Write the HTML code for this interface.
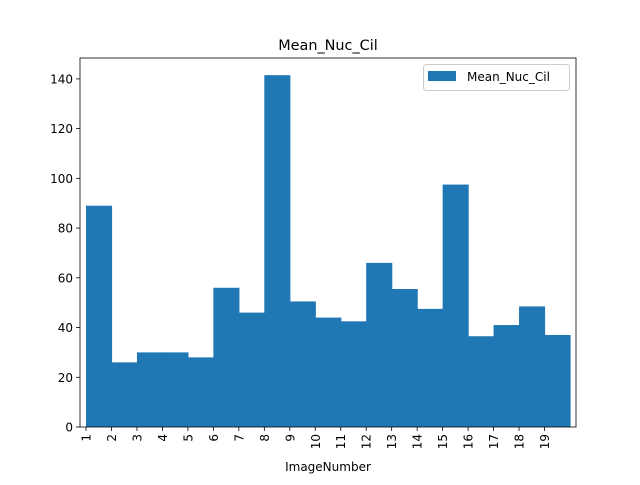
<!DOCTYPE html>
<html><head><meta charset="utf-8"><style>
body{margin:0;background:#fff;font-family:"Liberation Sans","DejaVu Sans",sans-serif;}
</style></head><body>
<svg id="chart" width="640" height="480" xmlns="http://www.w3.org/2000/svg" font-family="DejaVu Sans, Liberation Sans, sans-serif">
<rect width="640" height="480" fill="#fff"/>
<g id="bars"></g>
<g id="axes"></g>
</svg>
<script>
const categories=[1,2,3,4,5,6,7,8,9,10,11,12,13,14,15,16,17,18,19];
const values=[89,26,30,30,28,56,46,141.5,50.5,44,42.5,66,55.5,47.5,97.5,36.5,41,48.5,37];
const yTicks=[0,20,40,60,80,100,120,140];
const L=80,R=576,T=58,B=427;
const xmin=0.764,xmax=20.236,ymin=0,ymax=148.4;
const xs=v=>L+(v-xmin)/(xmax-xmin)*(R-L);
const ys=v=>B-(v-ymin)/(ymax-ymin)*(B-T);
const NS="http://www.w3.org/2000/svg";
const bars=document.getElementById('bars');
const axes=document.getElementById('axes');
function mk(tag,attrs,parent){const e=document.createElementNS(NS,tag);for(const k in attrs)e.setAttribute(k,attrs[k]);parent.appendChild(e);return e;}
categories.forEach((c,i)=>{
  const x0=xs(c),x1=xs(c+1),y=ys(values[i]);
  const r=mk('rect',{x:x0,y:y,width:x1-x0+0.6,height:B-y,fill:'#1f77b4'},bars);
  
  
  const t=mk('line',{x1:x0,x2:x0,y1:B,y2:B+4,stroke:'#000','stroke-width':0.8},axes);
  
  
  const lb=mk('text',{x:0,y:0,'font-size':12,'text-anchor':'end',transform:`translate(${x0+4.5},${B+7}) rotate(-90)`},axes);
  lb.textContent=c;
  
  
});
yTicks.forEach(v=>{
  const y=ys(v);
  const t=mk('line',{x1:L-4,x2:L,y1:y,y2:y,stroke:'#000','stroke-width':0.8},axes);
  
  
  const lb=mk('text',{x:L-7,y:y+4.5,'font-size':12,'text-anchor':'end'},axes);
  lb.textContent=v;
  
  
});
const frame=mk('rect',{x:L,y:T,width:R-L,height:B-T,fill:'none',stroke:'#000','stroke-width':0.8},axes);


const title=mk('text',{x:(L+R)/2,y:50,'font-size':14.4,'text-anchor':'middle'},axes);
title.textContent='Mean_Nuc_Cil';


const xl=mk('text',{x:(L+R)/2,y:471,'font-size':12,'text-anchor':'middle'},axes);
xl.textContent='ImageNumber';


const lg=mk('g',{},axes);


mk('rect',{x:423.5,y:64.5,width:146,height:26,rx:3,fill:'#fff',stroke:'#ccc','stroke-width':1,'fill-opacity':0.8},lg);
mk('rect',{x:428,y:71,width:28,height:10,fill:'#1f77b4'},lg);
const lt=mk('text',{x:467,y:81,'font-size':12},lg);
lt.textContent='Mean_Nuc_Cil';


</script>
</body></html>
